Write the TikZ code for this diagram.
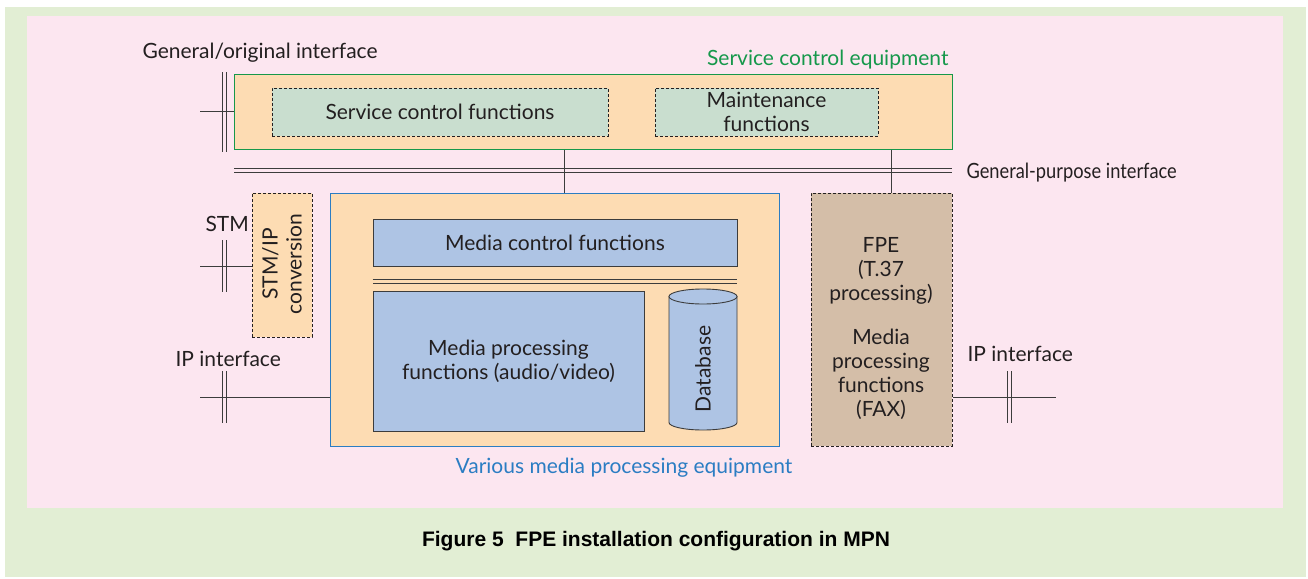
\documentclass[tikz,border=0pt]{standalone}
\usepackage{fontspec}
\setmainfont{Lato}
\newfontfamily\capfont{Liberation Sans}
\definecolor{bggreen}{HTML}{E2EED4}
\definecolor{bgpink}{HTML}{FCE6F0}
\definecolor{peach}{HTML}{FDDCB3}
\definecolor{sage}{HTML}{C9DECF}
\definecolor{mediablue}{HTML}{AEC4E4}
\definecolor{tan}{HTML}{D4BEA8}
\definecolor{scegreen}{HTML}{16984B}
\definecolor{mpeblue}{HTML}{2B7DC3}
\definecolor{ink}{HTML}{231F20}
\definecolor{wire}{HTML}{3C3C3C}
\begin{document}
\begin{tikzpicture}[x=1pt, y=-1pt, font=\fontsize{21}{24}\selectfont, text=ink,
  equip/.style={draw, fill=peach, line width=1pt, minimum width=#1, inner sep=0pt},
  func/.style={draw=wire, fill=mediablue, line width=1pt, inner sep=0pt},
  dashbox/.style={draw=ink, line width=1pt, dash pattern=on 3pt off 2pt, inner sep=0pt},
  wireline/.style={draw=wire, line width=0.9pt}]
\useasboundingbox (0,0) rectangle (1308,578);
\fill[bggreen] (5,7) rectangle (1306,577);
\fill[bgpink] (27,16) rectangle (1283,508);

% service control side
\node[equip=718pt, draw=scegreen, minimum height=75pt] (sce) at (593,111.5) {};
\node[dashbox, fill=sage, minimum width=336pt, minimum height=48pt] (scf) at (440,112) {Service control functions};
\node[dashbox, fill=sage, minimum width=223pt, minimum height=48pt, align=center] (mtf) at (766.5,112) {Maintenance\\functions};
\node[anchor=base east, text=scegreen] (scelbl) at (952,66) {Service control equipment};
\node[anchor=base west] (golbl) at (139,59) {General/original interface};

% general-purpose interface
\coordinate (busW) at (234,168);
\coordinate (busE) at (952,168);
\draw[wireline] (busW) -- (busE) ([yshift=-4pt]busW) -- ([yshift=-4pt]busE);
\node[anchor=base west] (gplbl) at (963,178) {\scalebox{0.87}[1]{General-purpose interface}};

% media processing equipment
\node[equip=449pt, draw=mpeblue, minimum height=253pt] (mpe) at (554.5,319.5) {};
\node[func, minimum width=364pt, minimum height=47pt] (mcf) at (555,242.5) {Media control functions};
\draw[wireline] (mcf.south west) ++(0,13) -- ++(364,0) ++(0,4) -- ++(-364,0);
\node[func, minimum width=271pt, minimum height=140pt, align=center] (mpf) at (508.5,361) {Media processing\\functions (audio/video)};
\filldraw[wireline, fill=mediablue] (669,296.5) -- (669,422.5)
  arc[start angle=180, end angle=0, x radius=34, y radius=7.5] -- (737,296.5) -- cycle;
\filldraw[wireline, fill=mediablue] (703,296.5) ellipse [x radius=34, y radius=7.5];
\node[rotate=90] (db) at (703,369) {Database};
\node[anchor=base, text=mpeblue] (mpelbl) at (624,473) {Various media processing equipment};

% STM/IP conversion
\node[dashbox, fill=peach, minimum width=60pt, minimum height=144pt] (stmip) at (282,265) {};
\node[rotate=90, align=center] (stmtxt) at (282,264) {STM/IP\\conversion};
\node[anchor=base west] (stmlbl) at (202,231) {STM};
\node[anchor=base west] (iplbl) at (172,366) {IP interface};

% FPE
\node[dashbox, fill=tan, minimum width=141pt, minimum height=253pt] (fpe) at (881.5,319.5) {};
\node[align=center] (fpetxt) at (881,329) {FPE\\(T.37\\processing)\\[20pt]Media\\processing\\functions\\(FAX)};
\node[anchor=base west] (iprlbl) at (964,361) {IP interface};

% connections
\coordinate (tapA) at (564,0);
\coordinate (tapB) at (891,0);
\draw[wireline] (sce.south -| tapA) -- (mpe.north -| tapA);
\draw[wireline] (sce.south -| tapB) -- (fpe.north -| tapB);
\coordinate (goi) at (200,111.5);
\coordinate (stm) at (200,266);
\coordinate (ipl) at (200,397);
\coordinate (ipr) at (1056,397);
\draw[wireline] (goi) -- (goi -| sce.west);
\draw[wireline] (stm) -- (stm -| stmip.west);
\draw[wireline] (ipl) -- (ipl -| mpe.west);
\draw[wireline] (fpe.east |- ipr) -- (ipr);
% interface bars
\draw[wireline] (222,72) -- (222,152) (226,72) -- (226,152);
\draw[wireline] (222,240) -- (222,292) (226,240) -- (226,292);
\draw[wireline] (222,371) -- (222,423) (226,371) -- (226,423);
\draw[wireline] (1007,371) -- (1007,423) (1011,371) -- (1011,423);

\node[font=\capfont\bfseries\fontsize{21}{24}\selectfont, text=black] (cap) at (656,541) {Figure 5\ \ FPE installation configuration in MPN};
\end{tikzpicture}
\end{document}
